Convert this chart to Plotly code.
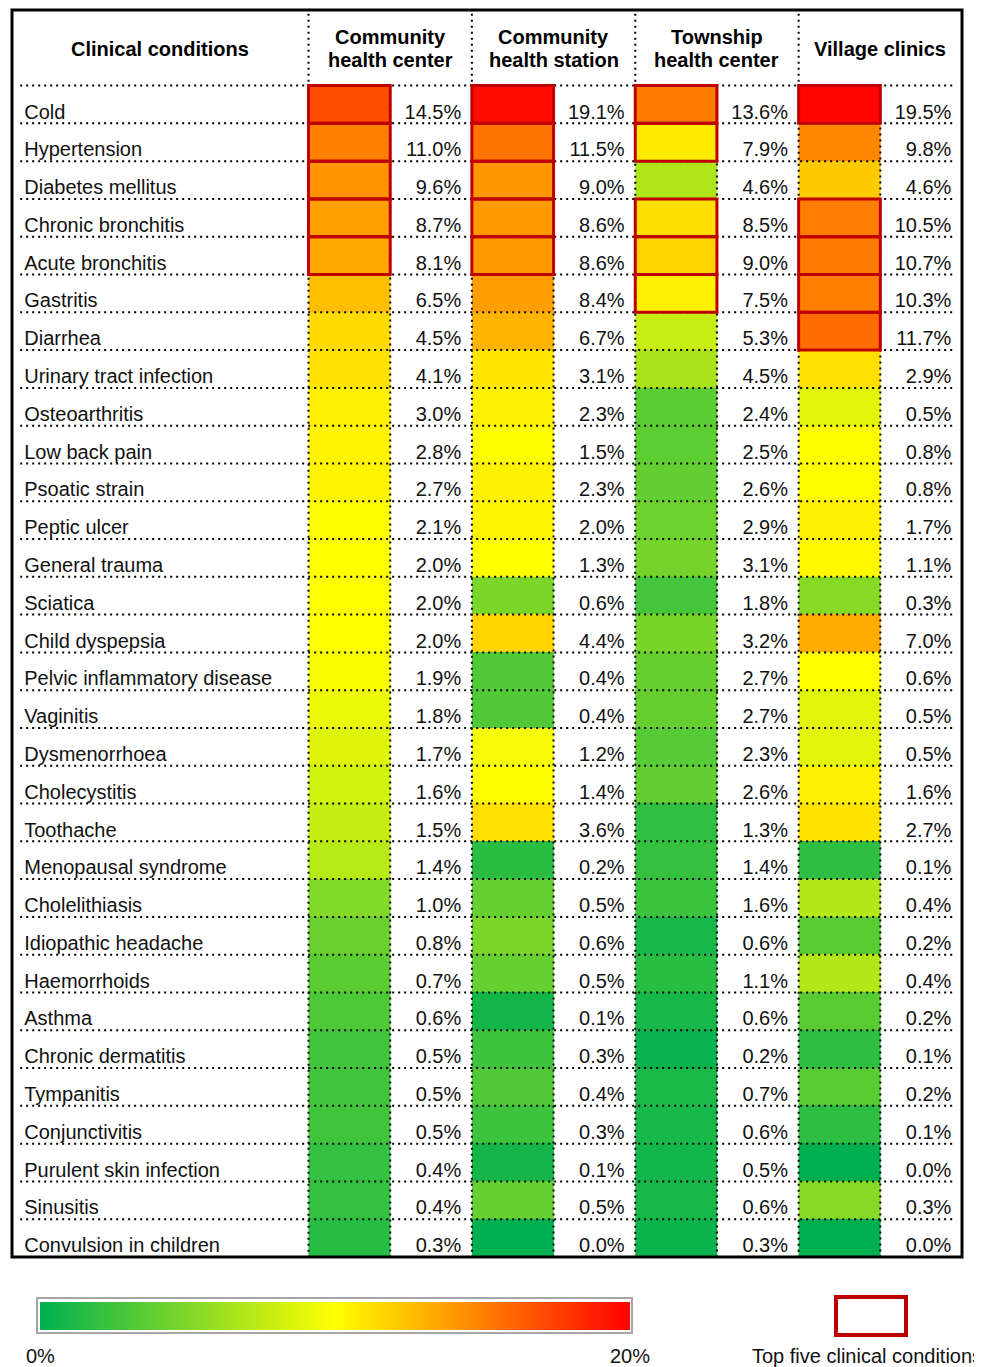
import plotly.graph_objects as go

# ---------------- data ----------------
conditions = ["Cold", "Hypertension", "Diabetes mellitus", "Chronic bronchitis", "Acute bronchitis",
              "Gastritis", "Diarrhea", "Urinary tract infection", "Osteoarthritis", "Low back pain",
              "Psoatic strain", "Peptic ulcer", "General trauma", "Sciatica", "Child dyspepsia",
              "Pelvic inflammatory disease", "Vaginitis", "Dysmenorrhoea", "Cholecystitis", "Toothache",
              "Menopausal syndrome", "Cholelithiasis", "Idiopathic headache", "Haemorrhoids", "Asthma",
              "Chronic dermatitis", "Tympanitis", "Conjunctivitis", "Purulent skin infection", "Sinusitis",
              "Convulsion in children"]

facilities = [["Community", "health center"], ["Community", "health station"],
              ["Township", "health center"], ["Village clinics"]]
first_header = "Clinical conditions"

community_health_center = [14.5, 11.0, 9.6, 8.7, 8.1, 6.5, 4.5, 4.1, 3.0, 2.8, 2.7, 2.1, 2.0, 2.0, 2.0,
                           1.9, 1.8, 1.7, 1.6, 1.5, 1.4, 1.0, 0.8, 0.7, 0.6, 0.5, 0.5, 0.5, 0.4, 0.4, 0.3]
community_health_station = [19.1, 11.5, 9.0, 8.6, 8.6, 8.4, 6.7, 3.1, 2.3, 1.5, 2.3, 2.0, 1.3, 0.6, 4.4,
                            0.4, 0.4, 1.2, 1.4, 3.6, 0.2, 0.5, 0.6, 0.5, 0.1, 0.3, 0.4, 0.3, 0.1, 0.5, 0.0]
township_health_center = [13.6, 7.9, 4.6, 8.5, 9.0, 7.5, 5.3, 4.5, 2.4, 2.5, 2.6, 2.9, 3.1, 1.8, 3.2,
                          2.7, 2.7, 2.3, 2.6, 1.3, 1.4, 1.6, 0.6, 1.1, 0.6, 0.2, 0.7, 0.6, 0.5, 0.6, 0.3]
village_clinics = [19.5, 9.8, 4.6, 10.5, 10.7, 10.3, 11.7, 2.9, 0.5, 0.8, 0.8, 1.7, 1.1, 0.3, 7.0,
                   0.6, 0.5, 0.5, 1.6, 2.7, 0.1, 0.4, 0.2, 0.4, 0.2, 0.1, 0.2, 0.1, 0.0, 0.3, 0.0]

columns = [community_health_center, community_health_station, township_health_center, village_clinics]
legend_ticks = [0, 20]
legend_box_label = "Top five clinical conditions"
top_n = 5

# ---------------- style ----------------
PAGE_W, PAGE_H = 982, 1367
BODY_MARGIN = 8                      # default page margin around the plot div
W, H = PAGE_W - BODY_MARGIN, PAGE_H - BODY_MARGIN
GREEN, YELLOW, RED = "#00B050", "#FFFF00", "#FF0000"
col_mid = [1.95, 1.25, 6.8, 0.57]          # yellow point of each column's colour scale
ZMIN, ZMAX = 0, 20
FONT = "Arial, Liberation Sans, sans-serif"
BOX_RED = "#C00000"
TXT = "#111111"
TEXT_DY = 0.24                       # text sits a little below row centre
LINE_GAP = 0.61                      # header line spacing in row units

# table plot area in page pixels
TL, TR, TT, TB = 12, 962, 10, 1257
XMIN, XMAX = -3.63, 8.0
YTOP, YBOT = -2.5, 30.5
HEAD_Y = -1.5
LABEL_X = -3.48


def px_x(p):
    return (p - BODY_MARGIN) / W


def px_y(p):
    return 1 - (p - BODY_MARGIN) / H


fig = go.Figure()

n = len(conditions)
ybounds = [i - 0.5 for i in range(n + 1)]

for j, vals in enumerate(columns):
    cs = [[0, GREEN], [col_mid[j] / ZMAX, YELLOW], [1, RED]]
    fig.add_trace(go.Heatmap(
        z=[[v] for v in vals], x=[2 * j, 2 * j + 1], y=ybounds,
        colorscale=cs, zmin=ZMIN, zmax=ZMAX, showscale=False, hoverinfo="skip"))
    fig.add_trace(go.Scatter(
        x=[2 * j + 1.87] * n, y=[i + TEXT_DY for i in range(n)],
        text=[f"{v:.1f}%" for v in vals], mode="text", textposition="middle left",
        textfont=dict(family=FONT, size=20, color=TXT),
        hoverinfo="skip", showlegend=False, cliponaxis=False))

fig.add_trace(go.Scatter(
    x=[LABEL_X] * n, y=[i + TEXT_DY for i in range(n)], text=conditions, mode="text",
    textposition="middle right", textfont=dict(family=FONT, size=20, color=TXT),
    hoverinfo="skip", showlegend=False, cliponaxis=False))

shapes = []
dot = dict(color="black", width=2, dash="2px,4px")
# horizontal dotted lines (header bottom + between rows)
for i in range(-1, n - 1):
    shapes.append(dict(type="line", xref="x", yref="y", x0=-3.53, x1=7.92,
                       y0=i + 0.5, y1=i + 0.5, line=dot, layer="above"))
# vertical dotted lines
for j in range(4):
    shapes.append(dict(type="line", xref="x", yref="y", x0=2 * j, x1=2 * j,
                       y0=-2.4, y1=YBOT, line=dot, layer="above"))
    shapes.append(dict(type="line", xref="x", yref="y", x0=2 * j + 1, x1=2 * j + 1,
                       y0=-0.5, y1=YBOT, line=dot, layer="above"))
# top five boxes
for j, vals in enumerate(columns):
    order = sorted(range(n), key=lambda k: -vals[k])[:top_n]
    for k in order:
        shapes.append(dict(type="rect", xref="x", yref="y", x0=2 * j, x1=2 * j + 1,
                           y0=k - 0.5, y1=k + 0.5, line=dict(color=BOX_RED, width=3),
                           layer="above"))
# outer border
shapes.append(dict(type="rect", xref="x domain", yref="y domain", x0=0, x1=1, y0=0, y1=1,
                   line=dict(color="black", width=3), layer="above"))

# legend gradient
fig.add_trace(go.Heatmap(
    z=[legend_ticks], x=legend_ticks, y=[0], xaxis="x2", yaxis="y2",
    colorscale=[[0, GREEN], [0.5, YELLOW], [1, RED]], zmin=ZMIN, zmax=ZMAX,
    zsmooth="best", showscale=False, hoverinfo="skip"))
shapes.append(dict(type="rect", xref="paper", yref="paper",
                   x0=px_x(37), x1=px_x(632), y0=px_y(1333), y1=px_y(1298),
                   line=dict(color="#A6A6A6", width=2)))
shapes.append(dict(type="rect", xref="paper", yref="paper",
                   x0=px_x(836), x1=px_x(906), y0=px_y(1335), y1=px_y(1297),
                   line=dict(color=BOX_RED, width=4)))

annotations = []
hfont = dict(family=FONT, size=20, color="black")
annotations.append(dict(x=XMIN / 2, y=HEAD_Y + 0.03, xref="x", yref="y",
                        text=f"<b>{first_header}</b>", showarrow=False, font=hfont))
for j, lines in enumerate(facilities):
    m = len(lines)
    for li, line in enumerate(lines):
        yy = HEAD_Y + 0.03 + (li - (m - 1) / 2) * LINE_GAP
        annotations.append(dict(x=2 * j + 1, y=yy, xref="x", yref="y", text=f"<b>{line}</b>",
                                showarrow=False, font=hfont))
for t in legend_ticks:
    annotations.append(dict(x=t, y=px_y(1356), xref="x2", yref="paper", text=f"{t}%",
                            showarrow=False, xanchor="center", yanchor="middle",
                            font=dict(family=FONT, size=20, color=TXT)))
annotations.append(dict(x=px_x(750), y=px_y(1356), xref="paper", yref="paper",
                        text=legend_box_label, xanchor="left", yanchor="middle",
                        showarrow=False, font=dict(family=FONT, size=20, color=TXT)))

fig.update_layout(
    width=W, height=H, margin=dict(l=0, r=0, t=0, b=0, autoexpand=False),
    paper_bgcolor="white", plot_bgcolor="white", showlegend=False,
    xaxis=dict(domain=[px_x(TL), px_x(TR)], range=[XMIN, XMAX], visible=False),
    yaxis=dict(domain=[px_y(TB), px_y(TT)], range=[YBOT, YTOP], visible=False),
    xaxis2=dict(domain=[px_x(40), px_x(630)], range=legend_ticks, anchor="y2", visible=False),
    yaxis2=dict(domain=[px_y(1330), px_y(1302)], range=[-0.5, 0.5], anchor="x2", visible=False),
    shapes=shapes, annotations=annotations,
)

fig.write_html("out.html")
